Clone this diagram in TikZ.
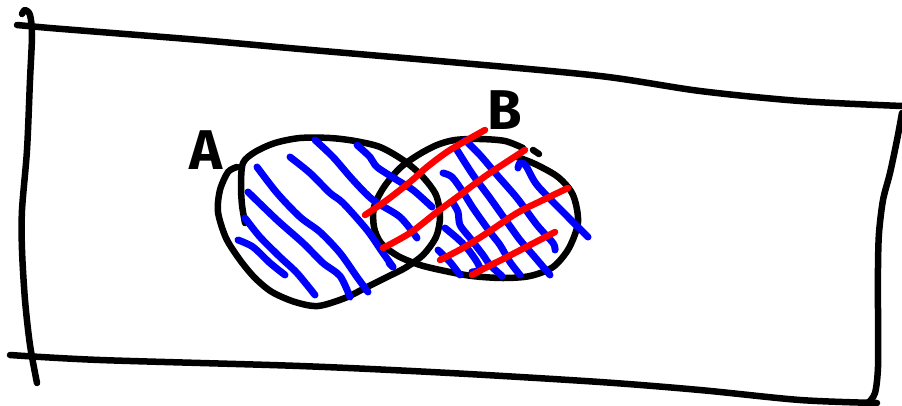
\documentclass[tikz,border=0pt]{standalone}
\usepackage{fontspec}
\setsansfont{Fira Sans}
\begin{document}
\begin{tikzpicture}[x=1pt, y=-1pt,
  pen/.style={line width=6.5pt, line cap=round, line join=round},
  outline/.style={pen, black},
  hatch/.style={pen, blue, line width=7pt},
  cross/.style={pen, red},
  letter/.style={font=\sffamily\bfseries\fontsize{56}{56}\selectfont, inner sep=0pt}]
  \useasboundingbox (0,0) rectangle (902,405);
  % frame
  \draw[outline] plot[smooth] coordinates {(17,25) (50,28) (100,32) (200,40) (300,49) (450,62) (600,76) (700,91) (800,101) (902,106)};
  \draw[outline] plot[smooth] coordinates {(22,14) (25,10) (30,15) (32,35) (30,80) (27,150) (22,210) (22,250) (25,300) (30,345) (37,383)};
  \draw[outline] plot[smooth] coordinates {(10,355) (100,360) (300,366) (450,373) (600,382) (700,390) (800,400) (877,403)};
  \draw[outline] plot[smooth] coordinates {(902,113) (897,140) (890,173) (883,200) (879,233) (878,267) (878,317) (878,367) (875,393) (868,403)};
  % set A
  \draw[outline] plot[smooth] coordinates {(237,167) (228,172) (220,190) (218,212) (226,238) (240,260) (255,278) (272,292) (295,302) (318,306) (345,298) (367,287) (387,277) (405,268) (423,255) (436,237) (440,217) (436,195) (422,176) (403,160) (380,147) (355,141) (330,138) (300,138) (275,143) (255,152) (243,163) (241,185) (242,205) (245,223)};
  % set B
  \draw[outline] plot[smooth] coordinates {(523,148) (505,141) (480,139) (455,140) (437,145) (418,155) (400,168) (384,187) (374,207) (374,227) (381,243) (398,256) (420,265) (445,271) (472,276) (503,278) (530,276) (553,267) (569,248) (578,222) (573,195) (558,177) (535,164) (517,157)};
  \draw[outline] (533,150) -- (539,154);
  % labels
  \node[letter] (labelA) at (206,150) {A};
  \node[letter] (labelB) at (505,110) {B};
  % hatching of A
  \draw[hatch] plot[smooth] coordinates {(238,240) (253,247) (270,263) (285,275)};
  \draw[hatch] plot[smooth] coordinates {(245,218) (260,237) (280,257) (297,273) (315,295)};
  \draw[hatch] plot[smooth] coordinates {(248,192) (277,220) (303,243) (323,263) (340,276) (350,297)};
  \draw[hatch] plot[smooth] coordinates {(257,167) (277,193) (300,217) (320,232) (340,253) (357,277) (368,292)};
  \draw[hatch] plot[smooth] coordinates {(290,157) (310,173) (330,193) (343,203) (367,230) (383,253) (393,267) (389,263)};
  \draw[hatch] plot[smooth] coordinates {(315,140) (333,157) (353,180) (373,200) (400,217) (417,238)};
  \draw[hatch] plot[smooth] coordinates {(357,145) (370,157) (377,167) (397,180) (413,190) (432,207)};
  % hatching of B
  \draw[hatch] plot[smooth] coordinates {(438,250) (450,262) (460,275)};
  \draw[hatch] plot[smooth] coordinates {(445,228) (457,238) (467,248) (477,262) (480,270) (472,272)};
  \draw[hatch] plot[smooth] coordinates {(453,203) (458,212) (460,225) (470,238) (483,255) (490,265) (502,276)};
  \draw[hatch] plot[smooth] coordinates {(443,173) (452,177) (463,192) (473,208) (490,232) (500,245) (510,262) (520,275)};
  \draw[hatch] plot[smooth] coordinates {(457,150) (473,175) (490,198) (507,222) (520,240) (533,255) (550,275)};
  \draw[hatch] plot[smooth] coordinates {(465,140) (480,155) (497,175) (517,198) (537,225) (553,243) (555,250)};
  \draw[hatch] plot[smooth] coordinates {(518,168) (520,163) (526,166) (537,185) (563,212) (588,237)};
  % cross hatching of B
  \draw[cross] plot[smooth] coordinates {(365,215) (387,200) (410,182) (427,167) (450,150) (485,130)};
  \draw[cross] plot[smooth] coordinates {(383,248) (410,233) (437,212) (460,195) (487,175) (525,150)};
  \draw[cross] plot[smooth] coordinates {(440,260) (463,248) (487,233) (517,213) (543,200) (568,188)};
  \draw[cross] plot[smooth] coordinates {(472,275) (487,267) (507,257) (530,245) (555,232)};
\end{tikzpicture}
\end{document}
